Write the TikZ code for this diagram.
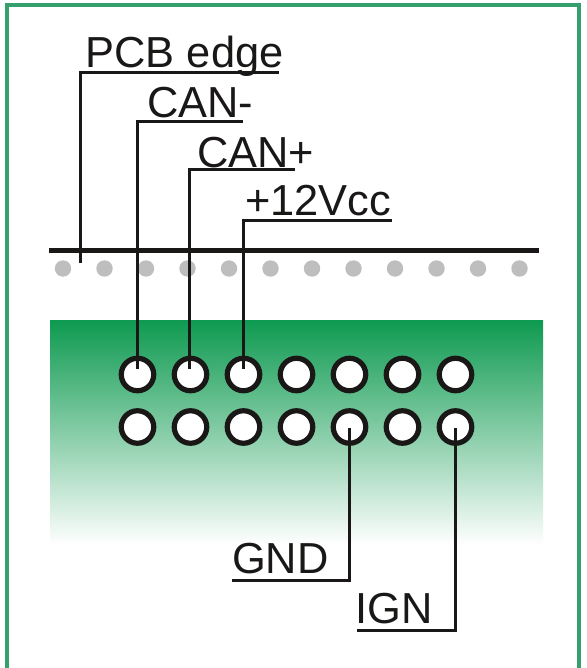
\documentclass[tikz,border=0pt]{standalone}
\usepackage{fontspec}
\setmainfont{Liberation Sans}
\definecolor{frame}{HTML}{35A06E}
\definecolor{pcbgreen}{HTML}{0E9A50}
\definecolor{dotgrey}{HTML}{BEBEBE}
\definecolor{ink}{HTML}{1A1717}
\tikzset{
  lead/.style={draw=ink,line width=3pt,miter limit=10},
  hole/.style={circle,draw=ink,line width=5.2pt,fill=white,minimum size=32.5pt,inner sep=0pt},
  pad/.style={circle,fill=dotgrey,minimum size=16.4pt,inner sep=0pt},
  lab/.style={font=\fontsize{43.4}{44}\selectfont,text=ink,anchor=base west,inner sep=0pt}
}
\begin{document}
\begin{tikzpicture}[x=1pt,y=-1pt]
\useasboundingbox (0,0) rectangle (586,668);
\fill[white] (0,0) rectangle (586,668);
\draw[frame,line width=4pt] (7,672) -- (7,5) -- (579,5) -- (579,672);
\shade[top color=pcbgreen,bottom color=white] (50,320) rectangle (543,545);
\foreach \i in {0,...,11} \node[pad] (d\i) at (63+41.5*\i,268.5) {};
\coordinate (el) at (49,250);
\coordinate (er) at (539,250);
\draw[draw=ink,line width=5pt] (el) -- (er);
\foreach \i in {1,...,7}{
  \node[hole] (t\i) at (84.5+53*\i,374.5) {};
  \node[hole] (b\i) at (84.5+53*\i,427) {};
}
\node[lab] (pcb) at (85.5,68) {PCB edge};
\node[lab] (canm) at (147,118) {CAN-};
\node[lab] (canp) at (197,168) {CAN+};
\node[lab] (vcc) at (245,215.5) {+12Vcc};
\node[lab] (gnd) at (232,573) {GND};
\node[lab] (ign) at (355,623) {IGN};
\coordinate (pe) at (80,263);
\draw[lead] (279,73) -- (80,73) -- (pe);
\draw[lead] (243,122) -- (137,122) -- (137,369);
\draw[lead] (295,170) -- (189,170) -- (189,369);
\draw[lead] (392,220) -- (243,220) -- (243,369);
\draw[lead] (232,580) -- (349,580) -- (349,428);
\draw[lead] (357,630) -- (455,630) -- (455,428);
\end{tikzpicture}
\end{document}
